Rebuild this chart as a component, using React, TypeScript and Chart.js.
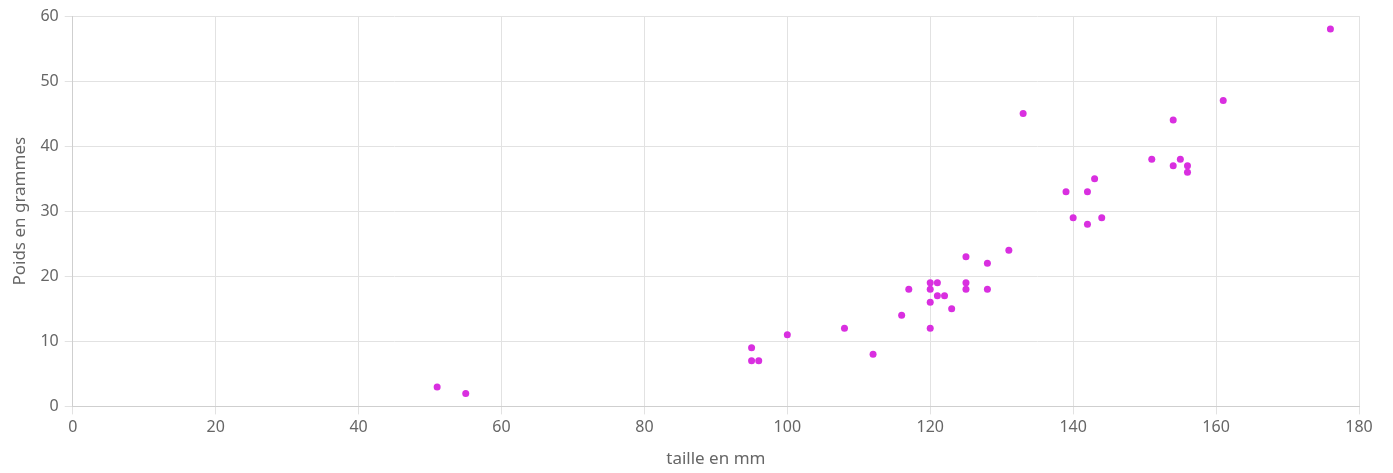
import React, { useEffect, useRef } from "react";
import { Chart, registerables } from "chart.js";

Chart.register(...registerables);

const tailleMm = [51, 55, 95, 95, 96, 100, 108, 112, 116, 117, 120, 120, 120, 120, 121, 121, 122, 123, 125, 125, 125, 128, 128, 131, 133, 139, 140, 142, 142, 143, 144, 151, 154, 154, 155, 156, 156, 161, 176];
const poidsG = [3, 2, 9, 7, 7, 11, 12, 8, 14, 18, 19, 18, 16, 12, 19, 17, 17, 15, 23, 19, 18, 22, 18, 24, 45, 33, 29, 33, 28, 35, 29, 38, 44, 37, 38, 37, 36, 47, 58];
const xTitle = "taille en mm";
const yTitle = "Poids en grammes";

export default function App() {
  const ref = useRef<HTMLCanvasElement | null>(null);
  useEffect(() => {
    if (!ref.current) return;
    const points = tailleMm.map((x, i) => ({ x, y: poidsG[i] }));
    const tickFont = { family: "'Noto Sans', sans-serif", size: 16 };
    const titleFont = { family: "'Noto Sans', sans-serif", size: 17 };
    const chart = new Chart(ref.current, {
      type: "scatter",
      data: {
        datasets: [
          {
            data: points,
            backgroundColor: "#d92fe0",
            borderColor: "#d92fe0",
            pointRadius: 3.5,
            borderWidth: 0,
          },
        ],
      },
      options: {
        animation: false,
        responsive: false,
        maintainAspectRatio: false,
        layout: { padding: { left: 6, right: 34, top: 16, bottom: 4 } },
        plugins: { legend: { display: false }, tooltip: { enabled: false } },
        scales: {
          x: {
            type: "linear",
            min: 0,
            max: 180,
            ticks: { stepSize: 20, color: "#666", font: tickFont },
            grid: { color: "#e2e2e2" },
            border: { color: "#cfcfcf" },
            title: { display: true, text: xTitle, color: "#666", font: titleFont, padding: { top: 9, bottom: 0 } },
          },
          y: {
            min: 0,
            max: 60,
            ticks: { stepSize: 10, color: "#666", font: tickFont, padding: 6 },
            grid: { color: "#e2e2e2" },
            border: { color: "#cfcfcf" },
            title: { display: true, text: yTitle, color: "#666", font: titleFont },
          },
        },
      },
    });
    return () => chart.destroy();
  }, []);
  return (
    <div style={{ position: "absolute", left: 0, top: 0, width: 1393, height: 473 }}>
      <canvas ref={ref} width={1393} height={473} />
    </div>
  );
}
